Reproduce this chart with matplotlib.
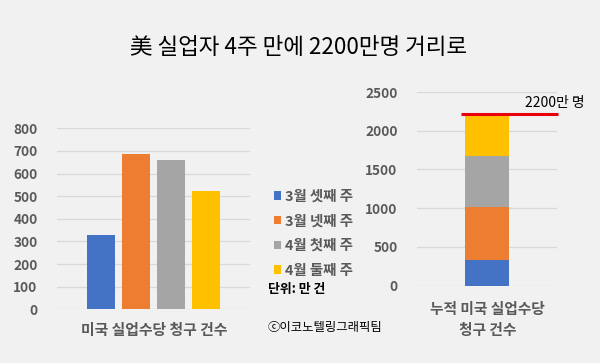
import numpy as np
import matplotlib.pyplot as plt
from matplotlib.patches import Patch

plt.rcParams['font.family'] = ['Noto Sans CJK KR', 'DejaVu Sans']

weeks = ['3월 셋째 주', '3월 넷째 주', '4월 첫째 주', '4월 둘째 주']
claims = [330, 687, 661, 524]
colors = ['#4472C4', '#ED7D31', '#A5A5A5', '#FFC000']
total_label = '2200만 명'
total_mark = 2220

W, H = 600, 363
bg = '#f1f1f1'
tick_c = '#595959'
grid_c = '#d9d9d9'

fig = plt.figure(figsize=(W / 100, H / 100), dpi=100, facecolor=bg)


def px_axes(x0, y0, x1, y1):
    # pixel box (top-left origin) -> figure axes
    return fig.add_axes([x0 / W, 1 - y1 / H, (x1 - x0) / W, (y1 - y0) / H])


def style(ax):
    ax.set_facecolor(bg)
    for s in ax.spines.values():
        s.set_visible(False)
    ax.tick_params(length=0, labelsize=9.8, labelcolor=tick_c, pad=14)
    for t in ax.get_yticklabels():
        t.set_fontweight('bold')
    ax.grid(axis='y', color=grid_c, lw=0.9)
    ax.set_axisbelow(True)


# left: weekly claims
ax1 = px_axes(57, 128.3, 250, 309.3)
x = np.arange(len(claims))
ax1.bar(x, claims, width=0.8, color=colors)
ax1.set_ylim(0, 800)
ax1.set_yticks(np.arange(0, 801, 100))
ax1.set_xlim(-1.257, 4.257)
ax1.set_xticks([])
style(ax1)

# right: cumulative stack
ax2 = px_axes(417, 92, 557, 285.7)
bottoms = np.concatenate([[0], np.cumsum(claims)[:-1]])
for v, b, c in zip(claims, bottoms, colors):
    ax2.bar(0, v, bottom=b, width=1.0, color=c)
ax2.set_ylim(0, 2500)
ax2.set_yticks(np.arange(0, 2501, 500))
ax2.set_xlim(-1.59, 1.59)
ax2.set_xticks([])
style(ax2)
ax2.plot([-0.59, 1.61], [total_mark, total_mark], color='#e8000b', lw=2.2,
         clip_on=False, solid_capstyle='butt')
fig.text(525 / W, 1 - 102.5 / H, total_label, fontsize=10, color='black',
         ha='left', va='center')

# labels
fig.text(154 / W, 1 - 330 / H, '미국 실업수당 청구 건수', fontsize=10.7,
         color=tick_c, fontweight='bold', ha='center', va='center')
fig.text(487.5 / W, 1 - 309 / H, '누적 미국 실업수당', fontsize=10.6,
         color=tick_c, fontweight='bold', ha='center', va='center')
fig.text(487.5 / W, 1 - 330 / H, '청구 건수', fontsize=10.6,
         color=tick_c, fontweight='bold', ha='center', va='center')

fig.text(299 / W, 1 - 48 / H, '美 실업자 4주 만에 2200만명 거리로', fontsize=16.2,
         color='black', ha='center', va='center')

# legend
handles = [Patch(facecolor=c, label=w) for w, c in zip(weeks, colors)]
leg = fig.legend(handles=handles, loc='upper left',
                 bbox_to_anchor=(262 / W, 1 - 178 / H), frameon=False,
                 fontsize=10.4, handlelength=0.5, handleheight=0.5,
                 handletextpad=0.3, labelspacing=0.74, borderpad=0.3)
for t in leg.get_texts():
    t.set_color(tick_c)
    t.set_fontweight('bold')

fig.text(268 / W, 1 - 289 / H, '단위: 만 건', fontsize=9.3, color='black',
         fontweight='bold', ha='left', va='center')
fig.text(268 / W, 1 - 327 / H, 'ⓒ이코노텔링그래픽팀', fontsize=8.9, color='black',
         ha='left', va='center')

fig.savefig('out.png', dpi=100, facecolor=bg)
